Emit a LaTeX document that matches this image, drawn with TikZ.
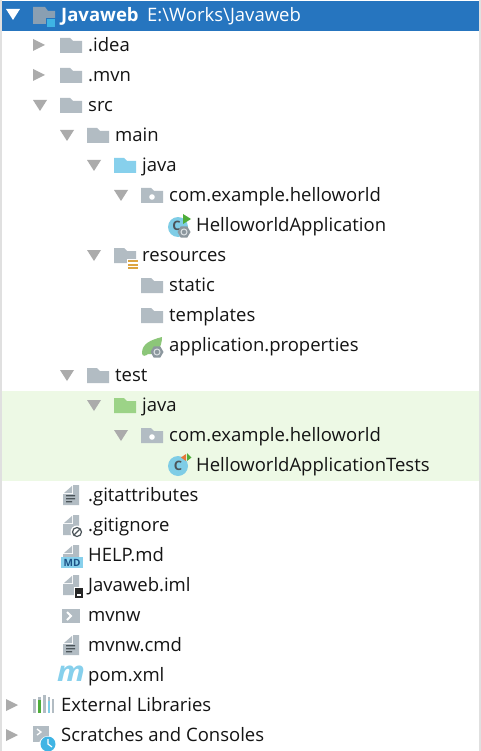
\documentclass[tikz,border=0pt]{standalone}
\usepackage{fontspec}
\setmainfont{Open Sans}
\usetikzlibrary{shapes.geometric,positioning}
\definecolor{barblue}{HTML}{2675BF}
\definecolor{rowgreen}{HTML}{EDF9E5}
\definecolor{slate}{HTML}{B2BCC3}
\definecolor{rootgrey}{HTML}{8A9FB2}
\definecolor{rootblue}{HTML}{3FB4E4}
\definecolor{tri}{HTML}{ABABAB}
\definecolor{srcblue}{HTML}{87D0EC}
\definecolor{testgreen}{HTML}{9CD387}
\definecolor{classblue}{HTML}{7FCDE6}
\definecolor{ink}{HTML}{4B5459}
\definecolor{runmark}{HTML}{4EAD3A}
\definecolor{leaf}{HTML}{8CC679}
\definecolor{gearmark}{HTML}{8C979E}
\definecolor{resyellow}{HTML}{DDA540}
\definecolor{orangemark}{HTML}{E5793B}
\tikzset{
  pics/folder/.style={code={
    \fill[#1] (-28,-7) -- (-18,-7) -- (-15,-4) -- (-6,-4) -- (-6,8) -- (-28,8) -- cycle;}},
  pics/openarrow/.style={code={
    \fill[#1] (-55,-5) -- (-41,-5) -- (-48,6) -- cycle;}},
  pics/shutarrow/.style={code={
    \fill[tri] (-55,-6) -- (-43,0) -- (-55,6) -- cycle;}},
  pics/document/.style={code={
    \fill[slate] (-15,-10) -- (-9,-10) -- (-9,10) -- (-25,10) -- (-25,-1) -- (-15,-1) -- cycle;
    \fill[slate] (-24,-2) -- (-16,-2) -- (-16,-9) -- cycle;}},
  pics/textlines/.style={code={
    \fill[ink] (-22,0) rectangle (-13,1.3) (-22,3) rectangle (-13,4.3) (-22,6) rectangle (-16,7.3);}},
  pics/gear/.style={code={
    \node[regular polygon, regular polygon sides=6, fill=gearmark, inner sep=0pt, minimum size=13pt] (#1) {};
    \draw[slate!45, line width=1pt] (0,0) circle (3);}},
  classmark/.style={inner sep=0pt, text=ink, font=\fontsize{13}{13}\selectfont\bfseries},
  rowtext/.style={anchor=base west, inner sep=0pt, font=\fontsize{18.5}{18.5}\selectfont, text=black!92},
}
\begin{document}
\begin{tikzpicture}[x=1pt,y=-1pt]
  \useasboundingbox (0,0) rectangle (481,751);
  % backgrounds
  \fill[white] (0,0) rectangle (481,751);
  \fill[black!12] (0,0) rectangle (1.5,751);
  \fill[black!12] (479,0) rectangle (481,751);
  \fill[barblue] (2,1) rectangle (479,31);
  \fill[rowgreen] (2,391) rectangle (479,481);

  % tree rows
  \node[rowtext, text=white, font=\fontsize{18.5}{18.5}\selectfont\bfseries] (javaweb) at (61,21.5) {Javaweb};
  \node[rowtext, text=white] (rootpath) at (147,21.5) {E:\textbackslash Works\textbackslash Javaweb};
  \node[rowtext] (idea) at (88,51.5) {.idea};
  \node[rowtext] (mvn) at (88,81.5) {.mvn};
  \node[rowtext] (src) at (88,111.5) {src};
  \node[rowtext] (main) at (115,141.5) {main};
  \node[rowtext] (mainjava) at (142,171.5) {java};
  \node[rowtext] (mainpkg) at (169,201.5) {com.example.helloworld};
  \node[rowtext] (mainclass) at (196,231.5) {HelloworldApplication};
  \node[rowtext] (resources) at (142,261.5) {resources};
  \node[rowtext] (static) at (169,291.5) {static};
  \node[rowtext] (templates) at (169,321.5) {templates};
  \node[rowtext] (appprops) at (169,351.5) {application.properties};
  \node[rowtext] (test) at (115,381.5) {test};
  \node[rowtext] (testjava) at (142,411.5) {java};
  \node[rowtext] (testpkg) at (169,441.5) {com.example.helloworld};
  \node[rowtext] (testclass) at (196,471.5) {HelloworldApplicationTests};
  \node[rowtext] (gitattr) at (88,501.5) {.gitattributes};
  \node[rowtext] (gitignore) at (88,531.5) {.gitignore};
  \node[rowtext] (helpmd) at (88,561.5) {HELP.md};
  \node[rowtext] (iml) at (88,591.5) {Javaweb.iml};
  \node[rowtext] (mvnw) at (88,621.5) {mvnw};
  \node[rowtext] (mvnwcmd) at (88,651.5) {mvnw.cmd};
  \node[rowtext] (pom) at (88,681.5) {pom.xml};
  \node[rowtext] (extlibs) at (61,711.5) {External Libraries};
  \node[rowtext] (scratches) at (61,741.5) {Scratches and Consoles};

  % expander arrows
  \pic at (61,14) {openarrow=white};
  \pic at (88,45) {shutarrow};
  \pic at (88,75) {shutarrow};
  \pic at (61,705) {shutarrow};
  \pic at (61,735) {shutarrow};
  \foreach \px/\py in {88/105,115/135,142/165,169/195,142/255,115/375,142/405,169/435}
    \pic at (\px,\py) {openarrow=tri};

  % folders
  \foreach \px/\py in {88/45,88/75,88/105,115/135,142/255,169/285,169/315,115/375,169/195,169/435}
    \pic at (\px,\py) {folder=slate};
  \pic at (142,165) {folder=srcblue};
  \pic at (142,405) {folder=testgreen};
  \foreach \py in {196,436}
    \fill[white] (152,\py+1) circle (2.8);
  \begin{scope}[shift={(61,15)}]
    \fill[rootgrey] (-28,-8) -- (-16,-8) -- (-13,-4) -- (-6,-4) -- (-6,9) -- (-28,9) -- cycle;
    \fill[barblue] (-15,3) rectangle (-5,13);
    \fill[rootblue] (-14,4) rectangle (-6,12);
  \end{scope}
  \fill[white] (127,259) rectangle (139,270);
  \foreach \py in {260,263.5,267}
    \fill[resyellow] (128,\py) rectangle (137.5,\py+2.2);

  % main class
  \fill[classblue] (178,227) circle (10);
  \node[classmark] (mainmark) at (176.5,226) {C};
  \fill[runmark] (183,214) -- (191,219) -- (183,224) -- cycle;
  \pic at (184,232) {gear=maingear};

  % resource file
  \fill[leaf] (142,353) .. controls (142,344) and (150,340) .. (162,337) .. controls (162,348) and (156,355) .. (148,354) .. controls (146,356) and (142,357) .. (142,353) -- cycle;
  \pic at (157,352) {gear=propgear};

  % test class
  \fill[classblue] (178,466) circle (10);
  \node[classmark] (testmark) at (178,466) {C};
  \fill[orangemark] (186,454) -- (181,457.5) -- (186,461) -- cycle;
  \fill[runmark] (187,453) -- (191.5,457.5) -- (187,461) -- cycle;

  % plain files
  \foreach \py in {495,525,555,585,645}
    \pic at (88,\py) {document};
  \pic at (88,495) {textlines};
  \pic at (88,645) {textlines};
  \fill[white] (77,532) circle (6.5);
  \draw[ink, line width=1.2pt] (77,532) circle (4.5) (73.8,535.2) -- (80.2,528.8);
  \fill[srcblue] (61,557) rectangle (83,568);
  \node[inner sep=0pt, text=barblue!70!black, font=\fontsize{10}{10}\selectfont\bfseries] (mdmark) at (72,562.5) {MD};
  \fill[white] (74,587) rectangle (84,599);
  \fill[black!85] (75,588) rectangle (83,598);
  \fill[white] (77,594) rectangle (81,595.5);
  \fill[slate] (62,609) rectangle (80,623);
  \draw[white, line width=1.8pt] (67,612) -- (71,616) -- (67,620);
  \node[inner sep=0pt, text=srcblue, xscale=1.1, font=\fontsize{28}{28}\selectfont\bfseries\itshape] (pommark) at (71,673.5) {m};

  % external libraries
  \fill[slate] (33,699) rectangle (36,713);
  \fill[slate] (38,697) rectangle (41,713);
  \fill[runmark] (38,700) rectangle (41,713);
  \fill[slate] (43,695) rectangle (46,713);
  \fill[slate] (48,697) rectangle (50,713);
  \fill[classblue] (48,701) rectangle (50,713);
  \fill[slate] (52,699) rectangle (54,713);

  % scratches
  \fill[slate] (33,726) rectangle (49,742);
  \draw[white, line width=1.3pt] (37,729) -- (41,732) -- (37,735);
  \fill[white] (48,745) circle (9);
  \fill[rootblue] (48,744) circle (7.5);
  \draw[white, line width=1.2pt] (48,739) -- (48,744) -- (52,747);
\end{tikzpicture}
\end{document}
